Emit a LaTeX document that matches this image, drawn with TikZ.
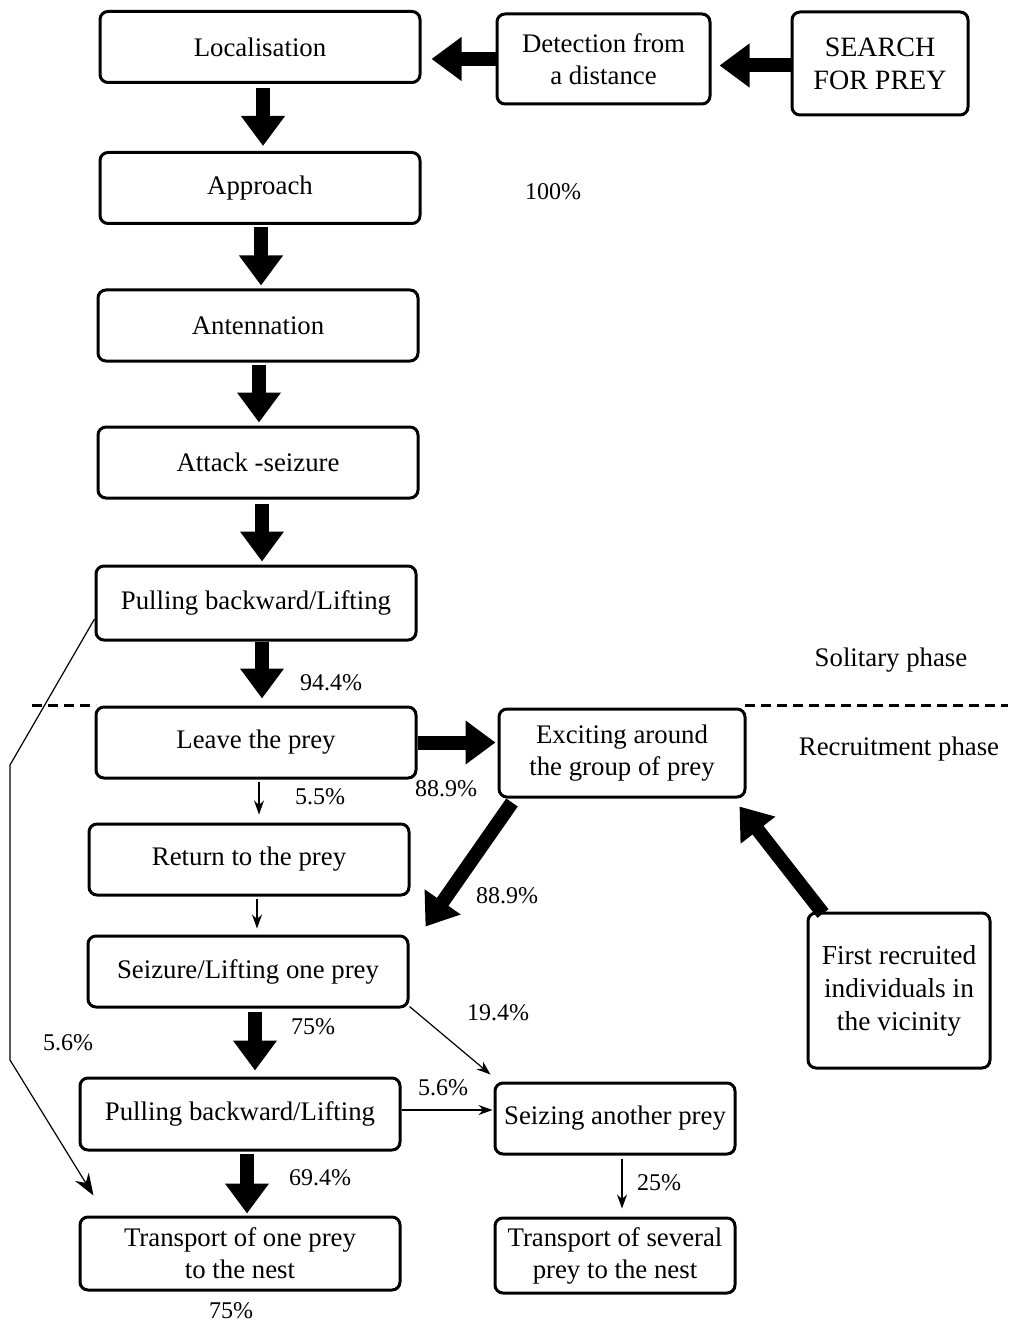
\documentclass[tikz,border=0pt]{standalone}
\usepackage{fontspec}
\setmainfont{Liberation Serif}
\usetikzlibrary{arrows.meta}

\begin{document}
\begin{tikzpicture}[x=0.5pt, y=-0.5pt]
		\tikzstyle{box} = [draw, line width=1.5pt, rounded corners=4pt, align=center, font=\fontsize{13.4}{16}\selectfont, minimum width=160pt, minimum height=35.5pt, inner sep=1pt]
		\tikzstyle{big} = [line width=7pt, -{Triangle[width=21pt, length=15pt]}]
		\tikzstyle{slim} = [line width=0.6pt, -{Stealth[width=5pt, length=7pt]}]
		\tikzstyle{pct} = [font=\fontsize{12}{14}\selectfont, inner sep=0pt]
		\tikzstyle{phase} = [font=\fontsize{13.4}{16}\selectfont, inner sep=0pt]
		\useasboundingbox (0,0) rectangle (1008,1326);
		% solitary phase
		\node[box] (local) at (260, 47) {Localisation};
		\node[box, minimum width=106.5pt, minimum height=45pt] (detect) at (603.5, 59) {Detection from\\a distance};
		\node[box, minimum width=88pt, minimum height=51.5pt, font=\fontsize{14}{16.5}\selectfont] (search) at (880, 63.5) {SEARCH\\FOR PREY};
		\node[box] (approach) at (260, 188) {Approach};
		\node[box] (antenna) at (258, 325.5) {Antennation};
		\node[box] (attack) at (258, 462.5) {Attack -seizure};
		\node[box, minimum height=37pt] (pullA) at (256, 603) {Pulling backward/Lifting};
		% recruitment phase
		\node[box] (leave) at (256, 742.5) {Leave the prey};
		\node[box, minimum width=123pt, minimum height=44pt] (excite) at (622, 753) {Exciting around\\the group of prey};
		\node[box] (return) at (249, 859.5) {Return to the prey};
		\node[box] (seize) at (248, 971.5) {Seizure/Lifting one prey};
		\node[box, minimum width=91pt, minimum height=77.5pt, font=\fontsize{13.7}{16.5}\selectfont] (first) at (899, 990.5) {First recruited\\individuals in\\the vicinity};
		\node[box, minimum height=36pt] (pullB) at (240, 1114) {Pulling backward/Lifting};
		\node[box, minimum width=120pt] (seizing) at (615, 1118.5) {Seizing another prey};
		\node[box, minimum height=36.5pt] (transA) at (240, 1253.5) {Transport of one prey\\to the nest};
		\node[box, minimum width=120pt, minimum height=37.5pt] (transB) at (615, 1255.5) {Transport of several\\prey to the nest};
		% labels
		\node[pct] (p100) at (553, 192) {100\%};
		\node[pct] (p944) at (331, 683) {94.4\%};
		\node[phase] (solo) at (891, 660) {Solitary phase};
		\node[phase] (recr) at (899, 749) {Recruitment phase};
		\node[pct] (p55) at (320, 797) {5.5\%};
		\node[pct] (p889a) at (446, 789) {88.9\%};
		\node[pct] (p889b) at (507, 896) {88.9\%};
		\node[pct] (p194) at (498, 1013) {19.4\%};
		\node[pct] (p75a) at (313, 1027) {75\%};
		\node[pct] (p56a) at (68, 1043) {5.6\%};
		\node[pct] (p56b) at (443, 1088) {5.6\%};
		\node[pct] (p694) at (320, 1178) {69.4\%};
		\node[pct] (p25) at (659, 1183) {25\%};
		\node[pct] (p75b) at (231, 1311) {75\%};
		% phase border
		\draw [line width=1.5pt, dash pattern=on 5pt off 3pt] (32, 705) -- (96, 705);
		\draw [line width=1.5pt, dash pattern=on 5pt off 3pt] (745, 705) -- (1008, 705);
		% arrows
		\draw [big, shorten >=4pt] ([yshift=-1pt]search.west) -- ([yshift=-1pt]search.west -| detect.east);
		\draw [big, shorten >=5pt] (detect.west) -- (detect.west -| local.east);
		\draw [big, shorten <=2pt, shorten >=2.5pt] ([xshift=1.5pt]local.south) -- ([xshift=1.5pt]approach.north);
		\draw [big, shorten <=1pt, shorten >=1.5pt] ([xshift=0.5pt]approach.south) -- ([xshift=0.5pt]approach.south |- antenna.north);
		\draw [big, shorten <=1pt, shorten >=1.5pt] ([xshift=0.5pt]antenna.south) -- ([xshift=0.5pt]antenna.south |- attack.north);
		\draw [big, shorten <=2pt, shorten >=1.5pt] ([xshift=2pt]attack.south) -- ([xshift=2pt]attack.south |- pullA.north);
		\draw [big, shorten >=3.5pt] ([xshift=3pt]pullA.south) -- ([xshift=3pt]pullA.south |- leave.north);
		\draw [big, shorten >=1pt] (leave.east) -- (leave.east -| excite.west);
		\draw [slim, shorten <=1pt, shorten >=4pt] ([xshift=1.5pt]leave.south) -- ([xshift=1.5pt]leave.south |- return.north);
		\draw [slim, shorten <=1pt, shorten >=3pt] ([xshift=4pt]return.south) -- ([xshift=4pt]return.south |- seize.north);
		\draw [big] ([xshift=-55pt, yshift=-2pt]excite.south) -- ([shift={(8pt,4pt)}]seize.north east);
		\draw [big] ([xshift=-38pt, yshift=-1pt]first.north) -- ([shift={(-3.5pt,-4pt)}]excite.south east);
		\draw [big, shorten <=1.5pt, shorten >=3pt] ([xshift=3.5pt]seize.south) -- ([xshift=3.5pt]seize.south |- pullB.north);
		\draw [slim] ([yshift=1pt]seize.south east) -- ([shift={(-1.5pt,3.5pt)}]seizing.north west);
		\draw [slim, shorten >=0.5pt] ([yshift=2pt]pullB.east) -- ([yshift=2pt]pullB.east -| seizing.west);
		\draw [big, shorten <=1pt, shorten >=1pt] ([xshift=3.5pt]pullB.south) -- ([xshift=3.5pt]pullB.south |- transA.north);
		\draw [slim, shorten <=1.5pt, shorten >=4pt] ([xshift=3.5pt]seizing.south) -- ([xshift=3.5pt]seizing.south |- transB.north);
		\draw [line width=0.6pt, -{Stealth[width=8pt, length=11pt]}] ([yshift=-8pt]pullA.west) -- (10, 765) -- (10, 1060) -- ([shift={(7.5pt,10pt)}]transA.north west);
	\end{tikzpicture}
\end{document}
